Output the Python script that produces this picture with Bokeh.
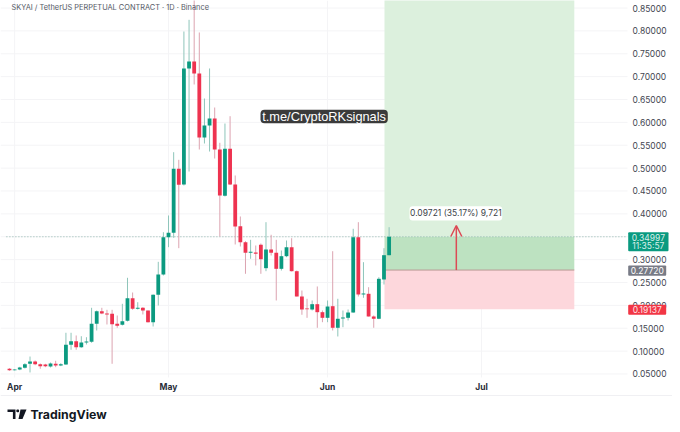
from bokeh.plotting import figure
from bokeh.embed import file_html
from bokeh.resources import INLINE
from bokeh.models import (Label, BoxAnnotation, PolyAnnotation, Arrow, OpenHead, LinearAxis,
                          FixedTicker, PrintfTickFormatter)

title_text = "SKYAI / TetherUS PERPETUAL CONTRACT · 1D · Binance"
watermark = "t.me/CryptoRKsignals"
measure_text = "0.09721 (35.17%) 9,721"
countdown = "11:35:57"

opens = [.0614,.0583,.0598,.0636,.0723,.0773,.0714,.0708,.0664,.0723,.0686,.0708,.1138,.1217,.1086,.1189,.1204,.1597,.1873,.1822,
         .1816,.1597,.1575,.1663,.2157,.1925,.1947,.1888,.1632,.2231,.2675,.3490,.3586,.4985,.4642,.7178,.7331,.7068,.5669,.5932,
         .6085,.5407,.4395,.5422,.4642,.3731,.3381,.3149,.3156,.3324,.2813,.3221,.3149,.2799,.3075,.3272,.2747,.2194,.1932,.1910,
         .2026,.1851,.1728,.1982,.1510,.1713,.1728,.1844,.3490,.2238,.2253,.1757,.1707,.2566,.3097]
closes = [.0583,.0598,.0642,.0714,.0773,.0714,.0671,.0671,.0730,.0686,.0714,.1138,.1217,.1086,.1189,.1210,.1597,.1873,.1822,.1801,
          .1589,.1554,.1654,.2157,.1925,.1947,.1888,.1632,.2231,.2675,.3490,.3586,.4985,.4636,.7178,.7331,.7068,.5669,.5932,.6085,
          .5407,.4402,.5422,.4642,.3724,.3381,.3149,.3171,.3127,.3009,.3221,.3149,.2799,.3075,.3272,.2747,.2194,.1910,.1916,.2026,
          .1851,.1728,.1975,.1510,.1707,.1735,.1844,.3490,.2238,.2260,.1757,.1707,.2581,.3097,.34997]
highs = [.0627,.0605,.0657,.0736,.0882,.0795,.0730,.0723,.0751,.0789,.0736,.1401,.1401,.1342,.1326,.1304,.1947,.1888,.1947,.1903,
         .1903,.1779,.2034,.2603,.2281,.2069,.1960,.1888,.2238,.2952,.3599,.3965,.5348,.5182,.7986,.8242,.8773,.7965,.6522,.7178,
         .6325,.5554,.5975,.6135,.4839,.3943,.3403,.3433,.3309,.3353,.3818,.3543,.3433,.3199,.3418,.3468,.2762,.2325,.2144,.2107,
         .2413,.1888,.2107,.3184,.2144,.1888,.1910,.3674,.3818,.2944,.2397,.1779,.2616,.3250,.3709]
lows = [.0570,.0577,.0583,.0620,.0533,.0692,.0614,.0649,.0642,.0649,.0671,.0701,.1029,.1029,.1073,.1145,.1182,.1451,.1807,.1582,
        .0723,.1510,.1560,.1648,.1903,.1910,.1801,.1626,.1538,.1997,.2653,.3272,.3477,.3250,.4620,.4926,.6828,.5407,.5538,.5363,
        .5210,.3506,.4380,.4631,.3331,.3287,.2690,.3018,.2872,.2690,.2747,.3090,.2107,.2762,.3053,.2741,.2194,.1794,.1728,.1888,
        .1510,.1632,.1632,.1451,.1320,.1523,.1669,.1838,.2194,.2166,.1757,.1510,.1698,.2456,.3090]
days = list(range(len(opens)))

price_ticks = [.05,.10,.15,.20,.25,.30,.35,.40,.45,.50,.55,.60,.65,.70,.75,.80,.85]
month_ticks = [1, 31, 62, 92]
month_labels = ["Apr", "May", "Jun", "Jul"]

last_price = 0.34997
entry = 0.27720
stop = 0.19137
target = 0.90
zone_start, zone_end = 73.1, 110.1
arrow_day = 87.1
arrow_tip = 0.3746

UP, DOWN = "#0b9a80", "#ee3350"
UP_WICK, DOWN_WICK = "#8ec5ba", "#dca3b0"
FIG_W, FIG_H = 672, 424
X_MIN, X_MAX = -1.754, 129.24
Y_MIN, Y_MAX = -0.0604, 0.8664
AXIS_X, AXIS_Y = 120.47, 0.04235

p = figure(width=FIG_W, height=FIG_H, output_backend="svg", toolbar_location=None,
           x_range=(X_MIN, X_MAX), y_range=(Y_MIN, Y_MAX),
           x_axis_location=None, y_axis_location=None,
           min_border=0)
p.outline_line_color = None
p.background_fill_color = "white"
p.border_fill_color = "white"
p.grid.visible = False

yax = LinearAxis(fixed_location=AXIS_X, ticker=FixedTicker(ticks=price_ticks),
                 formatter=PrintfTickFormatter(format="%.5f"))
xax = LinearAxis(fixed_location=AXIS_Y, ticker=FixedTicker(ticks=month_ticks),
                 major_label_overrides=dict(zip(month_ticks, month_labels)))
for ax in (xax, yax):
    ax.axis_line_color = None
    ax.major_tick_line_color = None
    ax.minor_tick_line_color = None
    ax.major_tick_out = 0
    ax.major_tick_in = 0
    ax.minor_tick_out = 0
    ax.minor_tick_in = 0
    ax.major_label_text_font = "Inter"
    ax.major_label_text_font_size = "8.5px"
    ax.major_label_standoff = 5
yax.major_label_text_color = "#434651"
xax.major_label_text_color = "#2a2e39"
xax.major_label_text_font_style = "bold"
p.add_layout(yax, "right")
p.add_layout(xax, "below")

# grid lines
GRID = "#f4f4f6"
p.segment(x0=[X_MIN] * len(price_ticks), x1=[AXIS_X] * len(price_ticks), y0=price_ticks, y1=price_ticks, line_color=GRID, line_width=1)
p.segment(x0=month_ticks, x1=month_ticks, y0=[AXIS_Y] * len(month_ticks), y1=[Y_MAX] * len(month_ticks), line_color=GRID, line_width=1)

# position zones
p.quad(left=[zone_start], right=[zone_end], bottom=[last_price], top=[target], color="#dcf0dd", line_color=None)
p.quad(left=[zone_start], right=[zone_end], bottom=[entry], top=[last_price], color="#bde2c1", line_color=None)
p.quad(left=[zone_start], right=[zone_end], bottom=[stop], top=[entry], color="#fdd7dc", line_color=None)
p.segment(x0=[zone_start], x1=[zone_end], y0=[entry], y1=[entry], line_color="#b99a94", line_width=1)

# last price line
p.segment(x0=[-0.6], x1=[AXIS_X], y0=[last_price], y1=[last_price], line_color="#8fb5ad", line_width=1, line_dash="1 2")

# candles
wick_cols = [UP_WICK if c >= o else DOWN_WICK for o, c in zip(opens, closes)]
body_cols = [UP if c >= o else DOWN for o, c in zip(opens, closes)]
p.segment(x0=days, x1=days, y0=lows, y1=highs, line_color=wick_cols, line_width=1)
p.vbar(x=days, width=0.74, bottom=opens, top=closes, fill_color=body_cols, line_color=None)

# helpers for decoration placed in reference pixels
sx = lambda px: px
sy = lambda py: FIG_H - py

def box(l, r, t, b, color, radius=2):
    p.add_layout(BoxAnnotation(left=sx(l), right=sx(r), top=sy(t), bottom=sy(b),
                               left_units="screen", right_units="screen", top_units="screen", bottom_units="screen",
                               fill_color=color, fill_alpha=1, line_color=None, border_radius=radius, level="annotation"))

def text(px, py, s, color, size, font="Inter", align="left", style="normal"):
    p.add_layout(Label(x=sx(px), y=sy(py), x_units="screen", y_units="screen", text=s, text_color=color,
                       text_font=font, text_font_size=f"{size}px", text_align=align, text_baseline="middle",
                       text_font_style=style, level="overlay"))

# arrow
p.add_layout(Arrow(end=OpenHead(size=11, line_color="#dc4a55", line_width=1.5), x_start=arrow_day, y_start=entry,
                   x_end=arrow_day, y_end=arrow_tip, line_color="#dc4a55", line_width=1.5))

# title
text(11, 7, title_text, "#555a66", 7.4)

# watermark
box(260, 387.3, 109.3, 122.7, "#3b3b3b", 4)
text(323.6, 116, watermark, "#ffffff", 12.8, font="Liberation Sans", align="center")

# measure label
box(409, 501.7, 205.7, 220, "#ffffff", 3)
text(455.3, 212.8, measure_text, "#3c3f48", 8.5, align="center")

# price tags
box(627.7, 668, 231.7, 250.7, "#0a9a80", 1)
text(647.8, 237, f"{last_price:.5f}", "#d9f0ea", 8.5, align="center")
text(647.8, 245.5, countdown, "#d9f0ea", 8.5, align="center")
box(627.7, 665.7, 265, 275.3, "#787b86", 1)
text(646.7, 270.2, f"{entry:.5f}", "#ffffff", 8.5, align="center")
box(627.7, 665.7, 304.3, 314.3, "#f23645", 1)
text(646.7, 309.3, f"{stop:.5f}", "#ffe3e6", 8.5, align="center")

# bottom line
box(0, 672, 394.6, 395.4, "#f0f0f3", 0)

# logo
LOGO = "#131722"
for xs, ys in [
    ([7, 15, 15, 12.4, 12.4, 7], [409, 409, 418.5, 418.5, 411.6, 411.6]),
    ([20, 26, 22, 18], [409, 409, 418.5, 418.5]),
]:
    p.add_layout(PolyAnnotation(xs=[sx(v) for v in xs], ys=[sy(v) for v in ys], xs_units="screen", ys_units="screen",
                                fill_color=LOGO, fill_alpha=1, line_color=None))
box(15.8, 18.6, 409, 411.8, LOGO, 1)
text(30, 414, "TradingView", LOGO, 12.3, style="bold", font="Inter")

open("out.html", "w").write(file_html(p, INLINE))
